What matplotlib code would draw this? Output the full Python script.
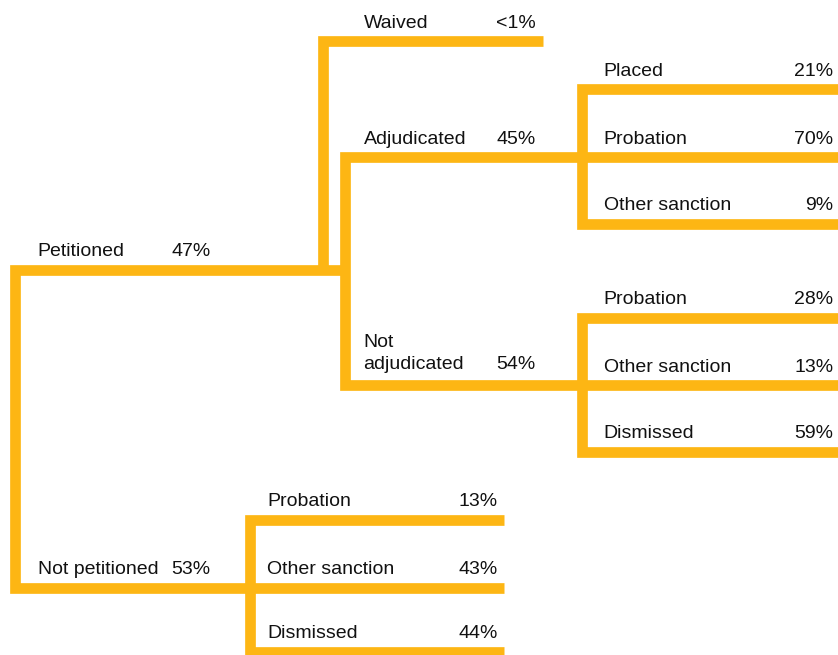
import matplotlib.pyplot as plt
from matplotlib import font_manager

# tree values
top_labels = ["Petitioned", "Not petitioned"]
top_pcts = ["47%", "53%"]

pet_labels = ["Waived", "Adjudicated", "Not\nadjudicated"]
pet_pcts = ["<1%", "45%", "54%"]

adj_labels = ["Placed", "Probation", "Other sanction"]
adj_pcts = ["21%", "70%", "9%"]

notadj_labels = ["Probation", "Other sanction", "Dismissed"]
notadj_pcts = ["28%", "13%", "59%"]

notpet_labels = ["Probation", "Other sanction", "Dismissed"]
notpet_pcts = ["13%", "43%", "44%"]

# pick a condensed font if there is one
names = {f.name for f in font_manager.fontManager.ttflist}
if "Liberation Sans Narrow" in names:
    font = ["Liberation Sans Narrow", "DejaVu Sans"]
    fsize = 15.1
else:
    font = ["Liberation Sans", "DejaVu Sans"]
    fsize = 14
plt.rcParams["font.family"] = font

orange = "#FDB614"
ink = "#111111"
lw = 7.7

fig = plt.figure(figsize=(8.38, 6.55), dpi=100)
ax = fig.add_axes([0, 0, 1, 1])
ax.set_xlim(0, 838)
ax.set_ylim(655, 0)
ax.axis("off")


def path(xs, ys):
    ax.plot(xs, ys, color=orange, lw=lw, solid_joinstyle="miter",
            solid_capstyle="butt", clip_on=True)


def label(x, y, text, pct, pct_x, pct_ha="right", off=13.5):
    lines = text.split("\n")
    for i, t in enumerate(reversed(lines)):
        ax.text(x, y - off - i * 22, t, fontsize=fsize, color=ink,
                ha="left", va="baseline")
    ax.text(pct_x, y - off, pct, fontsize=fsize, color=ink,
            ha=pct_ha, va="baseline")


# layout (pixels)
root_x = 15.3
top_y = [269.5, 587.5]
waive_x = 322.8
pet_x = 345.3
pet_y = [41.3, 157, 385.3]
sub_x = 582
adj_y = [89, 157, 224]
notadj_y = [317.5, 385.3, 452]
np_x = 250.3
np_y = [519.5, 587.5, 652]
right = 838
np_right = 503.5
waive_right = 543.3

# lines
path([pet_x, root_x, root_x, np_right], [top_y[0], top_y[0], top_y[1], top_y[1]])
path([waive_x, waive_x, waive_right], [top_y[0], pet_y[0], pet_y[0]])
path([right, pet_x, pet_x, right], [pet_y[1], pet_y[1], pet_y[2], pet_y[2]])
path([right, sub_x, sub_x, right], [adj_y[0], adj_y[0], adj_y[2], adj_y[2]])
path([right, sub_x, sub_x, right], [notadj_y[0], notadj_y[0], notadj_y[2], notadj_y[2]])
path([np_right, np_x, np_x, np_right], [np_y[0], np_y[0], np_y[2], np_y[2]])

# texts
for t, p, y in zip(top_labels, top_pcts, top_y):
    label(37.5, y, t, p, 171.7, pct_ha="left")

for t, p, y in zip(pet_labels, pet_pcts, pet_y):
    label(363.5, y, t, p, 535.5, off=16 if "\n" in t else 13.5)

for t, p, y in zip(adj_labels, adj_pcts, adj_y):
    label(603.5, y, t, p, 833.5)

for t, p, y in zip(notadj_labels, notadj_pcts, notadj_y):
    label(603.5, y, t, p, 833.5)

for t, p, y in zip(notpet_labels, notpet_pcts, np_y):
    label(267, y, t, p, 497.5)

fig.savefig("out.png", dpi=100, facecolor="white")
